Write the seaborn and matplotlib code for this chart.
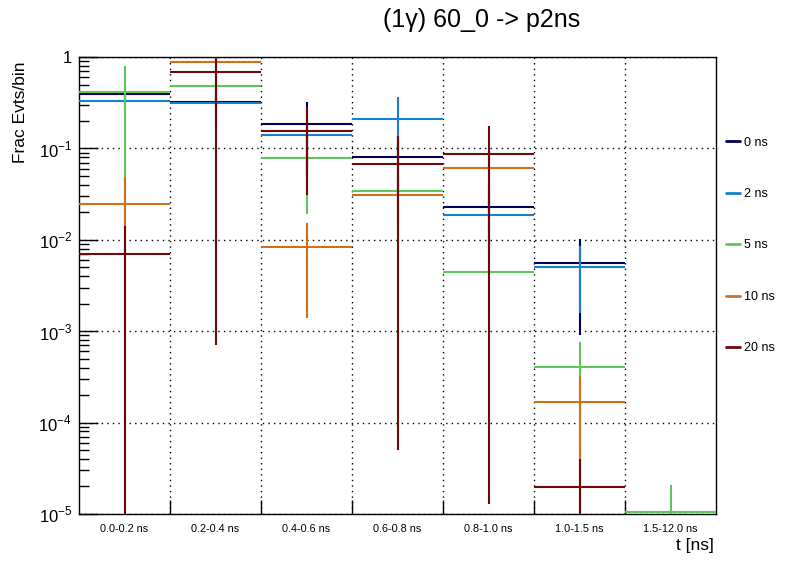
import numpy as np
import pandas as pd
import seaborn as sns
import matplotlib.pyplot as plt
from matplotlib.ticker import FixedLocator, FuncFormatter, LogLocator, NullFormatter
from matplotlib.lines import Line2D

sns.set_theme(style="white")
plt.rcParams["font.family"] = ["Liberation Sans", "DejaVu Sans"]
plt.rcParams["mathtext.fontset"] = "custom"
plt.rcParams["mathtext.rm"] = "Liberation Sans"
for key in ["text.color", "axes.labelcolor", "xtick.color", "ytick.color"]:
    plt.rcParams[key] = "black"

# time bins
bins = ["0.0-0.2 ns", "0.2-0.4 ns", "0.4-0.6 ns", "0.6-0.8 ns",
        "0.8-1.0 ns", "1.0-1.5 ns", "1.5-12.0 ns"]
series = ["0 ns", "2 ns", "5 ns", "10 ns", "20 ns"]
colors = ["#00005c", "#1880c8", "#5cc85c", "#d0701a", "#700808"]

# fraction of events per bin and its error, one list per series
frac_0ns = [0.39, 0.32, 0.185, 0.0805, 0.023, 0.0056, np.nan]
err_0ns = [0.08, 0.15, 0.135, 0.05, 0.015, 0.0047, np.nan]
frac_2ns = [0.333, 0.31, 0.141, 0.21, 0.0188, 0.00508, np.nan]
err_2ns = [0.07, 0.14, 0.09, 0.155, 0.012, 0.0035, np.nan]
frac_5ns = [0.41, 0.48, 0.079, 0.0342, 0.00444, 0.00041, 1.06e-5]
err_5ns = [0.39, 0.2, 0.06, 0.02, 0.003, 0.00036, 1.0e-5]
frac_10ns = [0.0248, 0.88, 0.0084, 0.031, 0.0615, 0.000168, np.nan]
err_10ns = [0.024, 0.3, 0.007, 0.02, 0.04, 0.000158, np.nan]
frac_20ns = [0.00705, 0.685, 0.156, 0.0676, 0.0869, 1.97e-5, np.nan]
err_20ns = [0.00705, 0.6843, 0.125, 0.06755, 0.086887, 2.06e-5, np.nan]

fracs = [frac_0ns, frac_2ns, frac_5ns, frac_10ns, frac_20ns]
errs = [err_0ns, err_2ns, err_5ns, err_10ns, err_20ns]

rows = []
for name, f, e in zip(series, fracs, errs):
    for i, b in enumerate(bins):
        rows.append({"series": name, "bin": b, "pos": i, "frac": f[i], "err": e[i]})
df = pd.DataFrame(rows)

fig = plt.figure(figsize=(7.96, 5.72), dpi=100)
ax = fig.add_axes([79 / 796, 58 / 572, 637 / 796, 457 / 572])

for k, (name, col) in enumerate(zip(series, colors)):
    d = df[df["series"] == name]
    y = d["frac"].values
    e = d["err"].values
    lo = np.where(y - e > 0, e, y - 1e-9)
    ax.errorbar(d["pos"], y, xerr=0.5, yerr=[lo, e], fmt="none",
                ecolor=col, elinewidth=1.5, capsize=0, zorder=3 + k)

ax.set_yscale("log")
ax.set_ylim(1e-5, 1)
ax.set_xlim(-0.5, len(bins) - 0.5)

# x axis: labels at centres, ticks/grid at edges
ax.xaxis.set_major_locator(FixedLocator(range(len(bins))))
ax.set_xticklabels(bins, fontsize=7.8)
ax.xaxis.set_minor_locator(FixedLocator(np.arange(0.5, len(bins) - 0.5, 1)))
ax.tick_params(axis="x", which="major", length=0, pad=7)
ax.tick_params(axis="x", which="minor", direction="in", length=10, width=1,
               color="black", bottom=True, top=False)

# y axis
ax.yaxis.set_major_locator(LogLocator(base=10, numticks=10))
ax.yaxis.set_minor_locator(LogLocator(base=10, subs=np.arange(2, 10), numticks=10))
ax.yaxis.set_minor_formatter(NullFormatter())
ax.yaxis.set_major_formatter(FuncFormatter(
    lambda v, p: "1" if abs(v - 1) < 1e-9 else r"$10^{%d}$" % round(np.log10(v))))
ax.tick_params(axis="y", which="major", direction="in", length=14, width=1,
               color="black", left=True, right=False, labelsize=12, pad=5)
ax.tick_params(axis="y", which="minor", direction="in", length=7, width=1,
               color="black", left=True, right=False)

ax.grid(True, which="major", axis="y", color="black", linestyle=(0, (1, 3)), linewidth=1)
ax.grid(True, which="minor", axis="x", color="black", linestyle=(0, (1, 3)), linewidth=1)
ax.set_axisbelow(True)
for s in ax.spines.values():
    s.set_color("black")
    s.set_linewidth(1)

ax.set_ylabel("Frac Evts/bin", fontsize=12.5, loc="top")
ax.yaxis.set_label_coords(-0.08, 0.99)
ax.set_xlabel("t [ns]", fontsize=12.5, loc="right")
ax.xaxis.set_label_coords(0.997, -0.052)

fig.text(482 / 796, 1 - 20 / 572, "(1\u03b3) 60_0 -> p2ns", ha="center", va="center",
         fontsize=18)

handles = [Line2D([0], [0], color=c, lw=2) for c in colors]
fig.legend(handles, series, loc="center left", bbox_to_anchor=(726 / 796, 1 - 245.5 / 572),
           frameon=False, fontsize=9, handlelength=1.1, handletextpad=0.3,
           labelspacing=3.15, borderpad=0, borderaxespad=0)

fig.savefig("out.png", dpi=100)
